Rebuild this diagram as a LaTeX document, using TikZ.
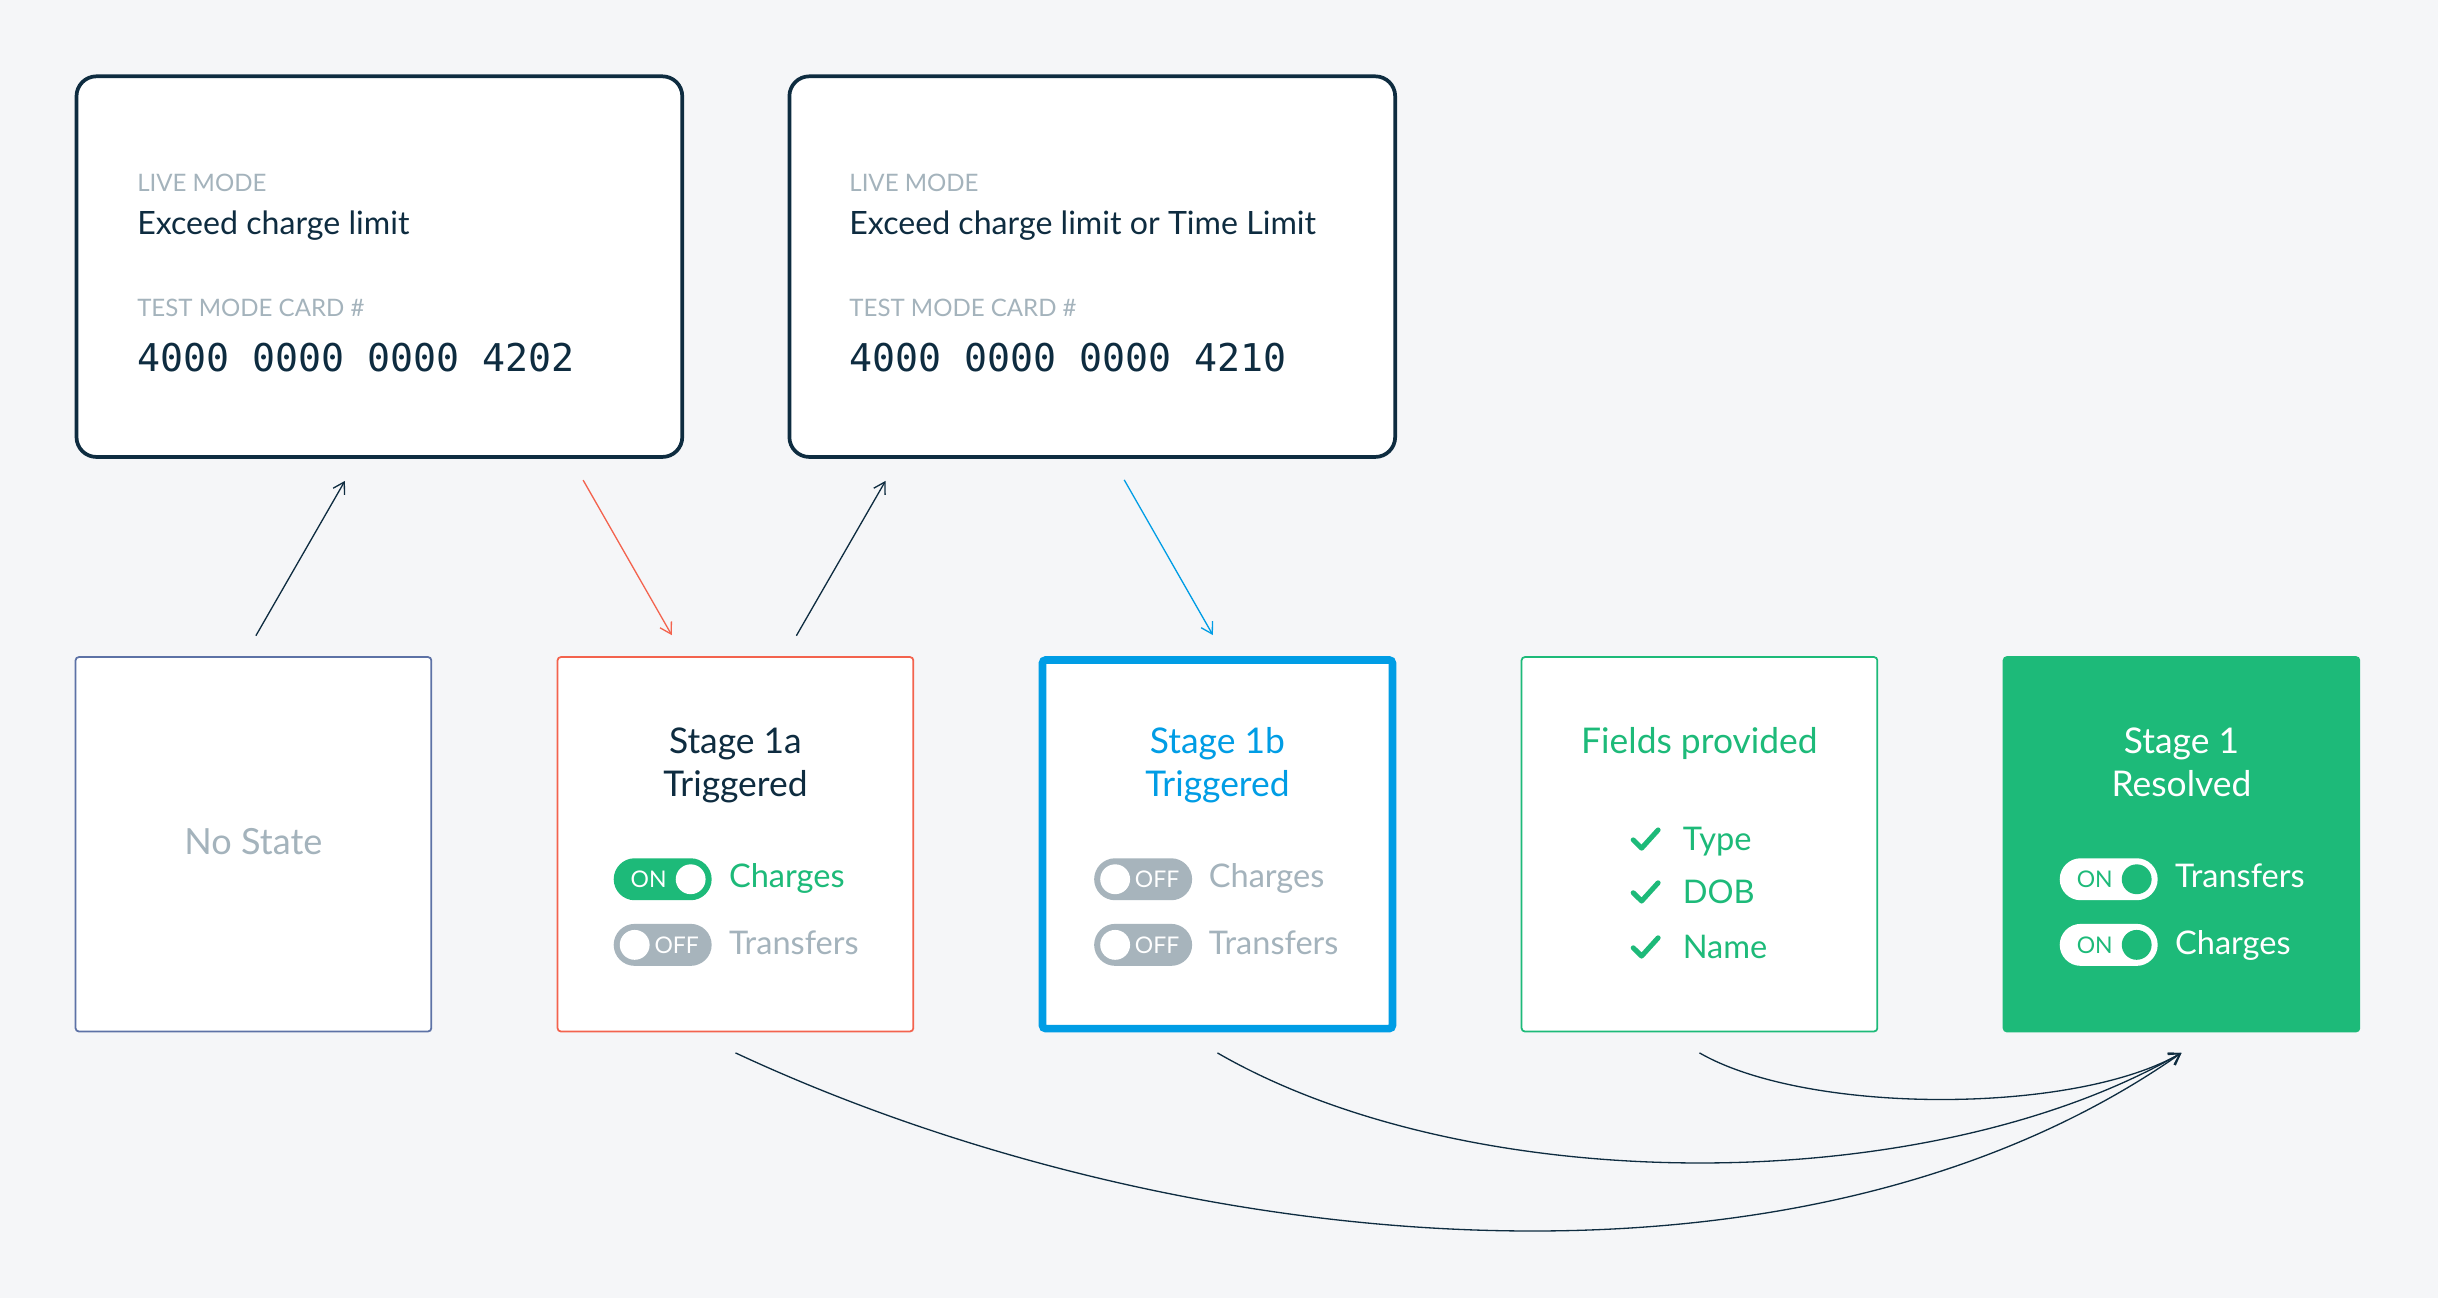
\documentclass[tikz,border=0pt]{standalone}
\usepackage{fontspec}
\setmainfont{Lato}
\newfontfamily\digits{DejaVu Sans Mono}
\usetikzlibrary{arrows.meta}

\definecolor{navy}{HTML}{0E2C40}
\definecolor{mist}{HTML}{A4B3BC}
\definecolor{coral}{HTML}{F3634E}
\definecolor{sky}{HTML}{009DE5}
\definecolor{leaf}{HTML}{1DBA79}
\definecolor{slate}{HTML}{5D72A6}
\definecolor{paper}{HTML}{F5F6F8}
\definecolor{switchoff}{HTML}{A7B4BC}

\tikzset{
  >={Straight Barb[length=5pt,width=6pt]},
  card/.style={rectangle, draw=navy, line width=1.7pt, rounded corners=0.32cm, fill=white, minimum width=9.74cm, minimum height=6.12cm},
  stage/.style={rectangle, draw, line width=0.8pt, rounded corners=1.5pt, fill=white, minimum width=5.72cm, minimum height=6.02cm},
  txt/.style={anchor=base west, inner sep=0},
  caps/.style={txt, text=mist, font=\fontsize{11}{13}\selectfont},
  rule/.style={txt, text=navy, font=\fontsize{14.7}{17}\selectfont},
  number/.style={txt, text=navy, font=\digits\fontsize{17.5}{20}\selectfont},
  title/.style={anchor=base, inner sep=0, font=\fontsize{16.2}{19}\selectfont},
  item/.style={txt, font=\fontsize{14.9}{18}\selectfont},
  pill/.style={rectangle, rounded corners=0.3375cm, minimum width=1.575cm, minimum height=0.675cm, inner sep=0},
  knob/.style={circle, fill=white, minimum size=0.48cm, inner sep=0},
  flag/.style={inner sep=0, text=white, font=\fontsize{10.5}{12}\selectfont},
  tick/.style={draw=leaf, line width=2.3pt, line cap=round, line join=round},
  link/.style={->, draw=navy, line width=0.6pt}
}

\begin{document}
\begin{tikzpicture}
\useasboundingbox (0,0) rectangle (39.2,20.875);
\fill[paper] (0,0) rectangle (39.2,20.875);

% test cards
\node[card] (C1) at (6.1, 16.5875) {};
\node[card] (C2) at (17.5625, 16.5875) {};
\node[caps] (C1a) at (2.2, 17.79) {LIVE MODE};
\node[rule] (C1b) at (2.2, 17.11) {Exceed charge limit};
\node[caps] (C1c) at (2.2, 15.79) {TEST MODE CARD \#};
\node[number] (C1d) at (2.2, 14.9) {4000 0000 0000 4202};
\node[caps] (C2a) at (13.65, 17.79) {LIVE MODE};
\node[rule] (C2b) at (13.65, 17.11) {Exceed charge limit or Time Limit};
\node[caps] (C2c) at (13.65, 15.79) {TEST MODE CARD \#};
\node[number] (C2d) at (13.65, 14.9) {4000 0000 0000 4210};

% stages
\node[stage, draw=slate] (B1) at (4.075, 7.3) {};
\node[stage, draw=coral] (B2) at (11.825, 7.3) {};
\node[stage, draw=sky, line width=3.5pt, minimum width=5.627cm, minimum height=5.927cm] (B3) at (19.575, 7.3) {};
\node[stage, draw=leaf] (B4) at (27.325, 7.3) {};
\node[stage, draw=leaf, fill=leaf] (B5) at (35.075, 7.3) {};

\node[inner sep=0, text=mist, font=\fontsize{16.5}{19}\selectfont] (B1t) at (4.075, 7.35) {No State};

\node[title, text=navy] (B2t) at (11.825, 8.7625) {Stage 1a};
\node[title, text=navy] (B2u) at (11.825, 8.065) {Triggered};
\node[pill, fill=leaf] (B2p) at (10.655, 6.7375) {};
\node[knob] (B2k) at (11.105, 6.7375) {};
\node[flag] (B2f) at (10.43, 6.7375) {ON};
\node[item, text=leaf] (B2c) at (11.715, 6.6) {Charges};
\node[pill, fill=switchoff] (B2q) at (10.655, 5.6825) {};
\node[knob] (B2l) at (10.205, 5.6825) {};
\node[flag] (B2g) at (10.88, 5.6825) {OFF};
\node[item, text=mist] (B2d) at (11.715, 5.525) {Transfers};

\node[title, text=sky] (B3t) at (19.575, 8.7625) {Stage 1b};
\node[title, text=sky] (B3u) at (19.575, 8.065) {Triggered};
\node[pill, fill=switchoff] (B3p) at (18.38, 6.7375) {};
\node[knob] (B3k) at (17.93, 6.7375) {};
\node[flag] (B3f) at (18.605, 6.7375) {OFF};
\node[item, text=mist] (B3c) at (19.43, 6.6) {Charges};
\node[pill, fill=switchoff] (B3q) at (18.38, 5.6825) {};
\node[knob] (B3l) at (17.93, 5.6825) {};
\node[flag] (B3g) at (18.605, 5.6825) {OFF};
\node[item, text=mist] (B3d) at (19.43, 5.525) {Transfers};

\node[title, text=leaf] (B4t) at (27.325, 8.7625) {Fields provided};
\draw[tick] (26.26, 7.37) -- ++(0.135, -0.1325) -- ++(0.265, 0.2925);
\draw[tick] (26.26, 6.52) -- ++(0.135, -0.1325) -- ++(0.265, 0.2925);
\draw[tick] (26.26, 5.635) -- ++(0.135, -0.1325) -- ++(0.265, 0.2925);
\node[item, text=leaf] (B4a) at (27.05, 7.2) {Type};
\node[item, text=leaf] (B4b) at (27.05, 6.35) {DOB};
\node[item, text=leaf] (B4c) at (27.05, 5.465) {Name};

\node[title, text=white] (B5t) at (35.075, 8.7625) {Stage 1};
\node[title, text=white] (B5u) at (35.075, 8.065) {Resolved};
\node[pill, fill=white] (B5p) at (33.905, 6.7375) {};
\node[knob, fill=leaf] (B5k) at (34.355, 6.7375) {};
\node[flag, text=leaf] (B5f) at (33.68, 6.7375) {ON};
\node[item, text=white] (B5c) at (34.965, 6.6) {Transfers};
\node[pill, fill=white] (B5q) at (33.905, 5.6825) {};
\node[knob, fill=leaf] (B5l) at (34.355, 5.6825) {};
\node[flag, text=leaf] (B5g) at (33.68, 5.6825) {ON};
\node[item, text=white] (B5d) at (34.965, 5.525) {Charges};

% triggers
\draw[link, shorten <=0.38cm, shorten >=0.41cm] ([xshift=-0.15cm]B1.north) -- ([xshift=-0.35cm]C1.south);
\draw[link, draw=coral, shorten <=0.395cm, shorten >=0.39cm] ([xshift=3.08cm]C1.south) -- ([xshift=-0.83cm]B2.north);
\draw[link, shorten <=0.38cm, shorten >=0.41cm] ([xshift=0.79cm]B2.north) -- ([xshift=-3.12cm]C2.south);
\draw[link, draw=sky, shorten <=0.39cm, shorten >=0.39cm] ([xshift=0.32cm]C2.south) -- ([xshift=0.12cm]B3.north);

% resolution
\draw[link] ([yshift=-0.33cm]B2.south) to[out=-25, in=-145, looseness=0.84] ([yshift=-0.33cm]B5.south);
\draw[link] ([yshift=-0.33cm]B3.south) to[out=-30, in=-150, looseness=0.78] ([yshift=-0.33cm]B5.south);
\draw[link] ([yshift=-0.33cm]B4.south) to[out=-30, in=-150, looseness=0.66] ([yshift=-0.33cm]B5.south);
\end{tikzpicture}
\end{document}
